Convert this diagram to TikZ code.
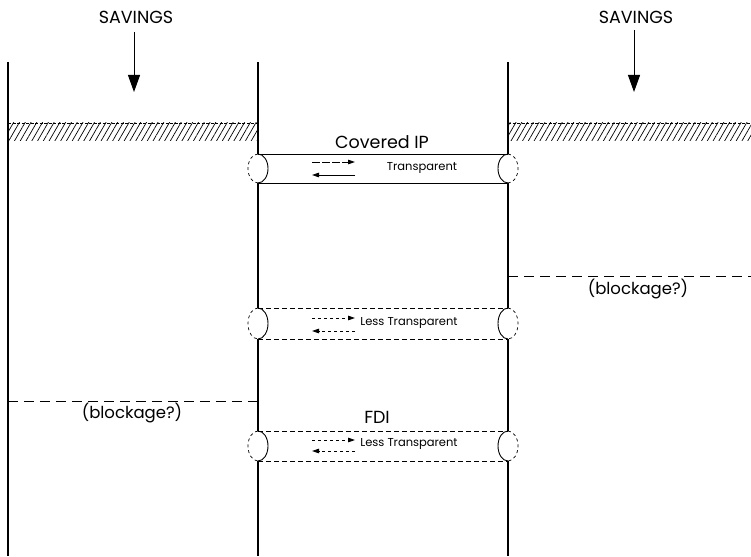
\documentclass[tikz,border=0pt]{standalone}
\usepackage{fontspec}
\setmainfont{Poppins}
\usetikzlibrary{arrows.meta,positioning,patterns.meta}

\begin{document}
\begin{tikzpicture}[x=1pt, y=-1pt,
  wall/.style={line width=1.2pt},
  label/.style={font=\fontsize{17.5}{20}\selectfont, inner sep=1pt},
  tiny/.style={font=\fontsize{11.5}{13}\selectfont, inner sep=1pt},
  inflow/.style={-{Triangle[length=17pt,width=12pt]}, line width=1pt},
  flow/.style={-{Triangle[length=7pt,width=4.5pt]}, line width=0.8pt},
  pipedash/.style={dash pattern=on 5pt off 3pt},
  blockline/.style={dash pattern=on 10pt off 6pt, line width=0.8pt},
  hatchband/.style={pattern={Lines[angle=60,distance=5pt,line width=0.7pt]}}
]
  \useasboundingbox (0,0) rectangle (751,556);

  % country walls
  \draw[wall] (8,62) -- (8,556);
  \draw[wall] (258,62) -- (258,556);
  \draw[wall] (508,62) -- (508,556);

  % hatched bands
  \fill[hatchband] (8,123) rectangle (258,141);
  \fill[hatchband] (508,123) rectangle (751,141);
  \draw[dash pattern=on 3pt off 1.5pt, line width=0.7pt] (8,123) -- (258,123);
  \draw[dash pattern=on 3pt off 1.5pt, line width=0.7pt] (508,123) -- (751,123);

  % savings inflows
  \node[label] (savL) at (136,17) {SAVINGS};
  \node[label] (savR) at (636,17) {SAVINGS};
  \coordinate (bandL) at (134,92);
  \coordinate (bandR) at (634,92);
  \draw[inflow] (134,32) -- (bandL);
  \draw[inflow] (634,30) -- (bandR);

  % pipes between the two countries
  \foreach \ya/\yb/\sty in {154/183/solid, 308/339/pipedash, 431/461/pipedash}{
    \fill[white] (250,\ya) rectangle (266,\yb);
    \fill[white] (500,\ya) rectangle (516,\yb);
    \draw[line width=0.9pt, \sty] (258,\ya) -- (508,\ya);
    \draw[line width=0.9pt, \sty] (258,\yb) -- (508,\yb);
    \pgfmathsetmacro{\r}{(\yb-\ya)/2}
    \draw[dashed, line width=0.7pt] (258,\ya) arc[start angle=270, end angle=90, x radius=10, y radius=\r];
    \draw[line width=0.9pt] (258,\ya) arc[start angle=270, end angle=450, x radius=10, y radius=\r];
    \draw[line width=0.9pt] (508,\ya) arc[start angle=270, end angle=90, x radius=10, y radius=\r];
    \draw[dashed, line width=0.7pt] (508,\ya) arc[start angle=270, end angle=450, x radius=10, y radius=\r];
  }

  % pipe labels
  \node[label] (cip) at (382,142) {Covered IP};
  \node[tiny] (tr) at (422,168) {Transparent};
  \node[label] (fdi) at (377,417) {FDI};
  \node[tiny] (ltA) at (409,323) {Less Transparent};
  \node[tiny] (ltB) at (409,444) {Less Transparent};

  % flows through the pipes
  \coordinate (a1) at (312,162); \coordinate (b1) at (355,162);
  \coordinate (a2) at (312,175); \coordinate (b2) at (355,175);
  \draw[flow, dash pattern=on 8pt off 2pt] (a1) -- (b1);
  \draw[flow] (b2) -- (a2);
  \coordinate (a3) at (312,318); \coordinate (b3) at (355,318);
  \coordinate (a4) at (312,331); \coordinate (b4) at (355,331);
  \draw[flow, dashed] (a3) -- (b3);
  \draw[flow, dashed] (b4) -- (a4);
  \coordinate (a5) at (312,440); \coordinate (b5) at (355,440);
  \coordinate (a6) at (312,451); \coordinate (b6) at (355,451);
  \draw[flow, dashed] (a5) -- (b5);
  \draw[flow, dashed] (b6) -- (a6);

  % blockages
  \coordinate (blR) at (751,276);
  \draw[blockline] (508,276) -- (blR);
  \node[label, font=\fontsize{16.5}{19}\selectfont] (bkR) at (638,289) {(blockage?)};
  \coordinate (blL) at (8,401);
  \draw[blockline] (blL) -- (258,401);
  \node[label, font=\fontsize{16.5}{19}\selectfont] (bkL) at (132,413) {(blockage?)};
\end{tikzpicture}
\end{document}
